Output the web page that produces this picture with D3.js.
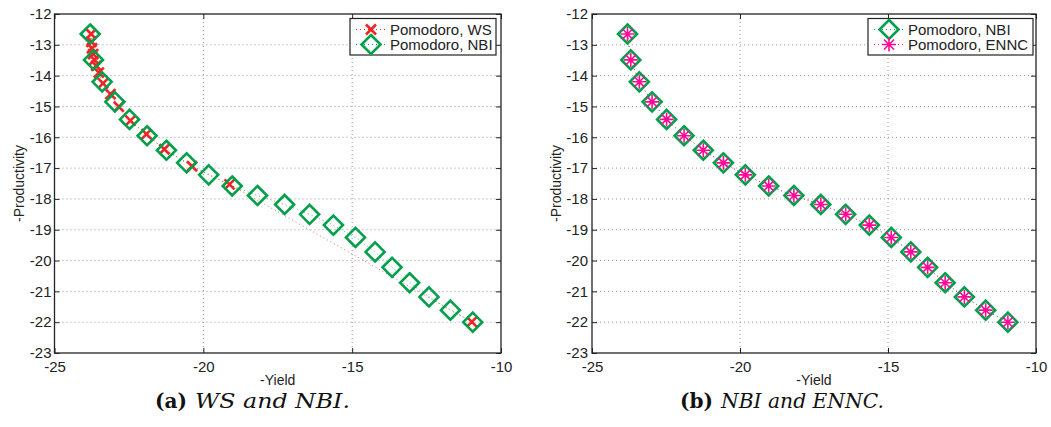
<!DOCTYPE html>
<html>

<head>
    <meta charset="utf-8">
    <style>
        body {
            margin: 0;
            background: white;
        }

        svg {
            font-family: 'Liberation Sans', Arial, sans-serif;
        }

        .caption {
            font-family: 'DejaVu Serif', 'Liberation Serif', serif;
            font-size: 20px;
        }
    </style>
</head>

<body>
    <svg width="1051" height="427"></svg>
</body>

<script src="https://d3js.org/d3.v7.min.js"></script>

<script>
    // values
    let xTicks = [-25, -20, -15, -10];
    let yTicks = [-23, -22, -21, -20, -19, -18, -17, -16, -15, -14, -13, -12];

    let nbiYield = [-23.80, -23.69, -23.40, -22.97, -22.48, -21.89, -21.24, -20.56, -19.82, -19.03,
        -18.18, -17.27, -16.43, -15.63, -14.89, -14.23, -13.66, -13.07, -12.42, -11.70, -10.95];
    let nbiProd = [-12.65, -13.49, -14.20, -14.85, -15.42, -15.95, -16.42, -16.83, -17.22, -17.58,
        -17.89, -18.18, -18.50, -18.85, -19.25, -19.72, -20.22, -20.72, -21.18, -21.61, -22.00];

    let wsYield = [-23.77, -23.76, -23.74, -23.70, -23.66, -23.60, -23.51, -23.37, -23.12, -22.84,
        -22.45, -21.91, -21.31, -20.38, -19.12, -10.98];
    let wsProd = [-12.65, -12.90, -13.11, -13.30, -13.49, -13.68, -13.90, -14.25, -14.60, -15.01,
        -15.46, -15.90, -16.39, -16.94, -17.53, -21.99];

    let enncYield = [-23.80, -23.69, -23.40, -22.97, -22.48, -21.89, -21.24, -20.56, -19.82, -19.03,
        -18.18, -17.27, -16.43, -15.63, -14.89, -14.23, -13.66, -13.07, -12.42, -11.70, -10.95];
    let enncProd = [-12.65, -13.49, -14.20, -14.85, -15.42, -15.95, -16.42, -16.83, -17.22, -17.58,
        -17.89, -18.18, -18.50, -18.85, -19.25, -19.72, -20.22, -20.72, -21.18, -21.61, -22.00];

    let captionLabels = ["(a)", "(b)"];
    let captionTexts = ["WS and NBI.", "NBI and ENNC."];

    let green = "#00a04a";
    let red = "#f02424";
    let magenta = "#ff0a95";

    let svg = d3.select("svg");

    let zip = (xs, ys) => xs.map((x, i) => ({ x: x, y: ys[i] }));

    // marker drawers
    function diamond(sel, size) {
        sel.append("path")
            .attr("d", `M0,${-size}L${size},0L0,${size}L${-size},0Z`)
            .style("fill", "none")
            .style("stroke", green)
            .style("stroke-width", 2.6);
    }

    function cross(sel, size) {
        sel.append("path")
            .attr("d", `M${-size},${-size}L${size},${size}M${-size},${size}L${size},${-size}`)
            .style("fill", "none")
            .style("stroke", red)
            .style("stroke-width", 2.6);
    }

    function star(sel, size) {
        let s = size * 0.72;
        sel.append("path")
            .attr("d", `M${-size},0L${size},0M0,${-size}L0,${size}M${-s},${-s}L${s},${s}M${-s},${s}L${s},${-s}`)
            .style("fill", "none")
            .style("stroke", magenta)
            .style("stroke-width", 1.6);
    }

    function drawPanel(left, right, series, legend) {
        let top = 14, bottom = 353;

        let x = d3.scaleLinear().domain([-25, -10]).range([left, right]);
        let y = d3.scaleLinear().domain([-23, -12]).range([bottom, top]);

        let g = svg.append("g");

        // grid
        g.selectAll(".gx")
            .data(xTicks.slice(1, -1))
            .join("line")
            .attr("x1", d => x(d)).attr("x2", d => x(d))
            .attr("y1", top).attr("y2", bottom)
            .style("stroke", "#999")
            .style("stroke-width", 1)
            .style("stroke-dasharray", "1,3");

        g.selectAll(".gy")
            .data(yTicks.slice(1, -1))
            .join("line")
            .attr("x1", left).attr("x2", right)
            .attr("y1", d => y(d)).attr("y2", d => y(d))
            .style("stroke", "#999")
            .style("stroke-width", 1)
            .style("stroke-dasharray", "1,3");

        // axes with inward ticks
        let fmt = d => String(d);
        let axB = d3.axisBottom(x).tickValues(xTicks).tickSizeInner(-5).tickSizeOuter(0).tickPadding(8).tickFormat(fmt);
        let axT = d3.axisTop(x).tickValues(xTicks).tickSizeInner(-5).tickSizeOuter(0).tickFormat("");
        let axL = d3.axisLeft(y).tickValues(yTicks).tickSizeInner(-5).tickSizeOuter(0).tickPadding(legend.pad).tickFormat(fmt);
        let axR = d3.axisRight(y).tickValues(yTicks).tickSizeInner(-5).tickSizeOuter(0).tickFormat("");

        [[axB, `translate(0,${bottom})`], [axT, `translate(0,${top})`],
        [axL, `translate(${left},0)`], [axR, `translate(${right},0)`]].forEach(a => {
            let ag = g.append("g").attr("transform", a[1]).call(a[0]);
            ag.select(".domain").remove();
            ag.selectAll("line").style("stroke", "#222");
            ag.selectAll("text")
                .style("font-size", "15px")
                .style("fill", "#222")
                .style("font-family", "'Liberation Sans', Arial, sans-serif");
        });

        g.append("rect")
            .attr("x", left).attr("y", top)
            .attr("width", right - left).attr("height", bottom - top)
            .style("fill", "none")
            .style("stroke", "#222")
            .style("stroke-width", 1.3);

        // axis labels
        g.append("text")
            .attr("x", (left + right) / 2)
            .attr("y", 385)
            .attr("text-anchor", "middle")
            .style("font-size", "14px")
            .style("fill", "#222")
            .text("-Yield");

        g.append("text")
            .attr("transform", `translate(${left - 31},${(top + bottom) / 2}) rotate(-90)`)
            .attr("text-anchor", "middle")
            .style("font-size", "14px")
            .style("fill", "#222")
            .text("-Productivity");

        let line = d3.line().x(d => x(d.x)).y(d => y(d.y));

        // lines first, then markers
        series.forEach(s => {
            g.append("path")
                .attr("d", line(s.data))
                .style("fill", "none")
                .style("stroke", s.color)
                .style("stroke-width", 1)
                .style("stroke-dasharray", "1,3")
                .style("opacity", 0.7);
        });

        series.forEach(s => {
            g.selectAll(null)
                .data(s.data)
                .join("g")
                .attr("transform", d => `translate(${x(d.x)},${y(d.y)})`)
                .each(function () { s.marker(d3.select(this), s.size); });
        });

        // legend
        let lg = g.append("g");
        lg.append("rect")
            .attr("x", legend.x).attr("y", 18.5)
            .attr("width", legend.w).attr("height", 36.5)
            .style("fill", "white")
            .style("stroke", "#222")
            .style("stroke-width", 1.2);

        series.forEach((s, i) => {
            let cy = 29.5 + i * 15;
            lg.append("line")
                .attr("x1", legend.x + 6).attr("x2", legend.x + 36)
                .attr("y1", cy).attr("y2", cy)
                .style("stroke", s.color)
                .style("stroke-width", 1)
                .style("stroke-dasharray", "1,3");
            let mk = lg.append("g").attr("transform", `translate(${legend.x + 21},${cy})`);
            s.marker(mk, s.size);
            lg.append("text")
                .attr("x", legend.x + 40)
                .attr("y", cy + 5.2)
                .style("font-size", "15px")
                .style("fill", "#222")
                .text(s.name);
        });
    }

    drawPanel(54.5, 501, [
        { name: "Pomodoro, WS", data: zip(wsYield, wsProd), color: red, marker: cross, size: 5 },
        { name: "Pomodoro, NBI", data: zip(nbiYield, nbiProd), color: green, marker: diamond, size: 9.5 }
    ], { x: 350, w: 146, pad: 3 });

    drawPanel(592, 1036, [
        { name: "Pomodoro, NBI", data: zip(nbiYield, nbiProd), color: green, marker: diamond, size: 9.5 },
        { name: "Pomodoro, ENNC", data: zip(enncYield, enncProd), color: magenta, marker: star, size: 7 }
    ], { x: 868, w: 165, pad: 4 });

    // captions: bold label, italic text
    let capPos = [
        { lx: 155, tx: 195, tw: 155 },
        { lx: 680, tx: 721, tw: 163 }
    ];

    capPos.forEach((p, i) => {
        svg.append("text")
            .attr("class", "caption")
            .attr("x", p.lx)
            .attr("y", 408)
            .style("font-weight", "bold")
            .style("fill", "#111")
            .text(captionLabels[i]);

        svg.append("text")
            .attr("class", "caption")
            .attr("x", p.tx)
            .attr("y", 408)
            .attr("textLength", p.tw)
            .attr("lengthAdjust", "spacingAndGlyphs")
            .style("font-style", "italic")
            .style("fill", "#111")
            .text(captionTexts[i]);
    });
</script>

</html>
